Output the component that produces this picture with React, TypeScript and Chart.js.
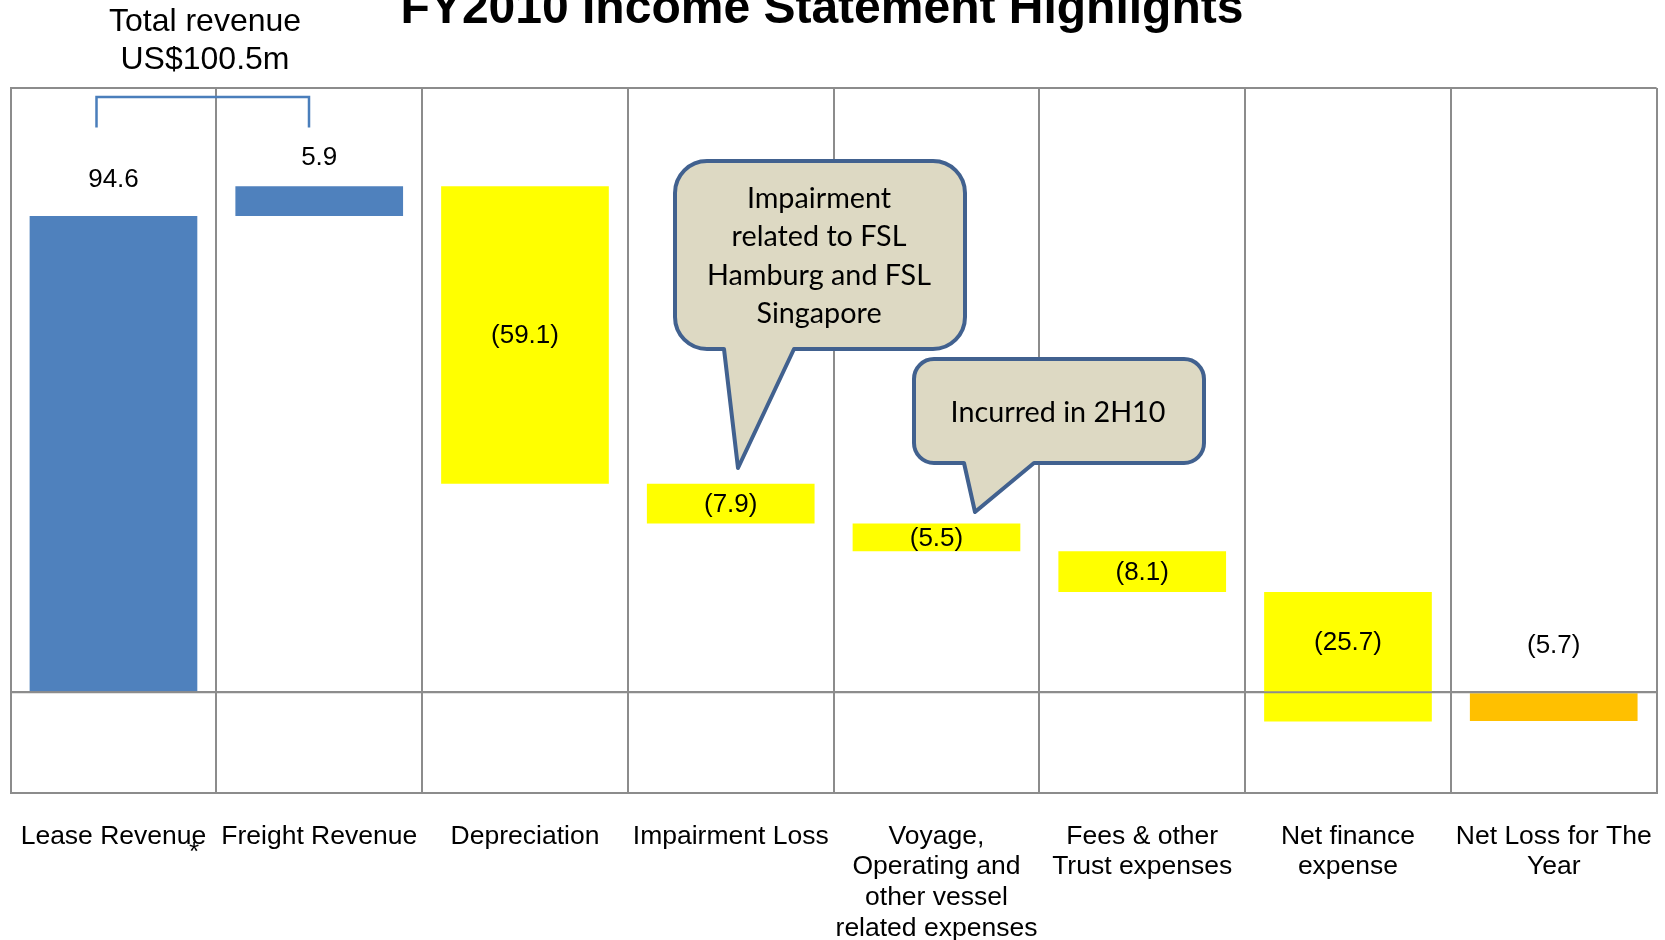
import React, { useEffect, useRef } from "react";
import { Chart, registerables } from "chart.js";

Chart.register(...registerables);

const categories: string[][] = [
  ["Lease Revenue"],
  ["Freight Revenue"],
  ["Depreciation"],
  ["Impairment Loss"],
  ["Voyage,", "Operating and", "other vessel", "related expenses"],
  ["Fees & other", "Trust expenses"],
  ["Net finance", "expense"],
  ["Net Loss for The", "Year"],
];
const changes = [94.6, 5.9, -59.1, -7.9, -5.5, -8.1, -25.7, -5.7];
const barKinds = ["revenue", "revenue", "expense", "expense", "expense", "expense", "expense", "total"];
const valueLabels = ["94.6", "5.9", "(59.1)", "(7.9)", "(5.5)", "(8.1)", "(25.7)", "(5.7)"];
const yMin = -20;
const yMax = 120;
const yStep = 20;
const titleText = "FY2010 Income Statement Highlights";
const revenueNote = ["Total revenue", "US$100.5m"];
const callout1Lines = ["Impairment", "related to FSL", "Hamburg and FSL", "Singapore"];
const callout2Lines = ["Incurred in 2H10"];

const kindColors: Record<string, string> = {
  revenue: "#4F81BD",
  expense: "#FFFF00",
  total: "#FFC000",
};

const FONT = "'Liberation Sans', Arial, sans-serif";
const CALLOUT_FONT = "Lato, 'Open Sans', sans-serif";
const GRID = "#8c8c8c";

function buildRanges(): [number, number][] {
  let run = 0;
  return changes.map((v, i) => {
    if (barKinds[i] === "total") return [0, v];
    const r: [number, number] = [run, run + v];
    run += v;
    return r;
  });
}

function calloutPath(
  ctx: CanvasRenderingContext2D,
  x: number, y: number, w: number, h: number, r: number,
  b1: number, b2: number, tx: number, ty: number
) {
  ctx.beginPath();
  ctx.moveTo(x + r, y);
  ctx.lineTo(x + w - r, y);
  ctx.arcTo(x + w, y, x + w, y + r, r);
  ctx.lineTo(x + w, y + h - r);
  ctx.arcTo(x + w, y + h, x + w - r, y + h, r);
  ctx.lineTo(b2, y + h);
  ctx.lineTo(tx, ty);
  ctx.lineTo(b1, y + h);
  ctx.lineTo(x + r, y + h);
  ctx.arcTo(x, y + h, x, y + h - r, r);
  ctx.lineTo(x, y + r);
  ctx.arcTo(x, y, x + r, y, r);
  ctx.closePath();
}

const overlayPlugin = {
  id: "overlay",
  afterDatasetsDraw(chart: any) {
    const ctx: CanvasRenderingContext2D = chart.ctx;
    const { chartArea } = chart;
    const ys = chart.scales.y;
    const zero = ys.getPixelForValue(0);
    ctx.save();
    ctx.strokeStyle = GRID;
    ctx.lineWidth = 2;
    ctx.beginPath();
    ctx.moveTo(chartArea.left, zero);
    ctx.lineTo(chartArea.right, zero);
    ctx.stroke();

    const meta = chart.getDatasetMeta(0);
    ctx.fillStyle = "#000";
    ctx.font = `26px ${FONT}`;
    ctx.textAlign = "center";
    ctx.textBaseline = "middle";
    meta.data.forEach((bar: any, i: number) => {
      const top = Math.min(bar.y, bar.base);
      const bottom = Math.max(bar.y, bar.base);
      let ly: number;
      if (barKinds[i] === "revenue") {
        ly = top - (i === 0 ? 36 : 28);
      } else if (barKinds[i] === "total") {
        ly = zero - 46;
      } else {
        const b = Math.min(bottom, zero);
        ly = (top + b) / 2 + 1;
      }
      ctx.fillText(valueLabels[i], bar.x, ly);
    });
    ctx.restore();
  },
  afterDraw(chart: any) {
    const ctx: CanvasRenderingContext2D = chart.ctx;
    ctx.save();
    ctx.fillStyle = "#000";
    ctx.font = `bold 48px ${FONT}`;
    ctx.textAlign = "center";
    ctx.textBaseline = "alphabetic";
    ctx.fillText(titleText, 822, 23);

    ctx.font = `32px ${FONT}`;
    ctx.textBaseline = "middle";
    ctx.fillText(revenueNote[0], 205, 22);
    ctx.fillText(revenueNote[1], 205, 60);

    ctx.strokeStyle = "#4A7EBB";
    ctx.lineWidth = 2.5;
    ctx.beginPath();
    ctx.moveTo(96.5, 127.5);
    ctx.lineTo(96.5, 97);
    ctx.lineTo(309, 97);
    ctx.lineTo(309, 127.5);
    ctx.stroke();

    ctx.font = `26px ${FONT}`;
    ctx.textBaseline = "alphabetic";
    ctx.fillText("*", 194, 860);

    const drawCallout = (
      x: number, y: number, w: number, h: number, r: number,
      b1: number, b2: number, tx: number, ty: number,
      lines: string[], cx: number, cy: number, lh: number, size: number
    ) => {
      calloutPath(ctx, x, y, w, h, r, b1, b2, tx, ty);
      ctx.fillStyle = "#DDD9C3";
      ctx.fill();
      ctx.strokeStyle = "#41618F";
      ctx.lineWidth = 4;
      ctx.lineJoin = "round";
      ctx.stroke();
      ctx.fillStyle = "#000";
      ctx.font = `${size}px ${CALLOUT_FONT}`;
      ctx.textAlign = "center";
      ctx.textBaseline = "middle";
      lines.forEach((t, k) => ctx.fillText(t, cx, cy + k * lh));
    };

    ctx.font = `30px ${CALLOUT_FONT}`;
    const wRef = ctx.measureText("Hamburg and FSL").width;
    const size = Math.max(20, Math.min(34, (30 * 224) / wRef));

    drawCallout(675, 161, 290, 188, 32, 724, 794, 738, 468,
      callout1Lines, 819, 199, 38.2, size);
    drawCallout(914, 359, 290, 104, 20, 964, 1034, 975, 512,
      callout2Lines, 1058, 413, 38.2, size);

    ctx.restore();
  },
};

export default function App() {
  const ref = useRef<HTMLCanvasElement | null>(null);
  useEffect(() => {
    document.body.style.margin = "0";
    document.body.style.overflow = "hidden";
    const canvas = ref.current;
    if (!canvas) return;
    const ranges = buildRanges();
    const chart = new Chart(canvas, {
      type: "bar",
      data: {
        labels: categories as any,
        datasets: [
          {
            data: ranges as any,
            backgroundColor: barKinds.map((k) => kindColors[k]),
            borderWidth: 0,
            barPercentage: 0.815,
            categoryPercentage: 1,
          },
        ],
      },
      options: {
        responsive: false,
        animation: false,
        events: [],
        layout: { padding: { left: 10.6, right: 8.4, top: 88, bottom: 0 } },
        plugins: {
          legend: { display: false },
          title: { display: false },
          tooltip: { enabled: false },
        },
        scales: {
          x: {
            type: "category",
            offset: true,
            grid: {
              offset: true,
              color: GRID,
              lineWidth: 2,
              drawTicks: false,
            },
            border: { display: true, color: GRID, width: 2 },
            ticks: {
              autoSkip: false,
              maxRotation: 0,
              minRotation: 0,
              padding: 28,
              color: "#000",
              font: { family: FONT, size: 26.5, lineHeight: 1.16 },
            },
            afterFit: (s: any) => {
              s.height = 147;
              s.paddingLeft = 0;
              s.paddingRight = 0;
            },
          },
          y: {
            min: yMin,
            max: yMax,
            ticks: { display: false, stepSize: yStep },
            grid: {
              drawTicks: false,
              lineWidth: 2,
              color: (c: any) =>
                c.tick && (c.tick.value === yMin || c.tick.value === yMax || c.tick.value === 0)
                  ? GRID
                  : "rgba(0,0,0,0)",
            },
            border: { display: true, color: GRID, width: 2 },
            afterFit: (s: any) => {
              s.width = 0;
              s.paddingTop = 0;
              s.paddingBottom = 0;
            },
          },
        },
      },
      plugins: [overlayPlugin],
    });
    return () => chart.destroy();
  }, []);
  return (
    <div style={{ width: 1665, height: 940, background: "#fff" }}>
      <canvas ref={ref} width={1665} height={940} style={{ display: "block" }} />
    </div>
  );
}
